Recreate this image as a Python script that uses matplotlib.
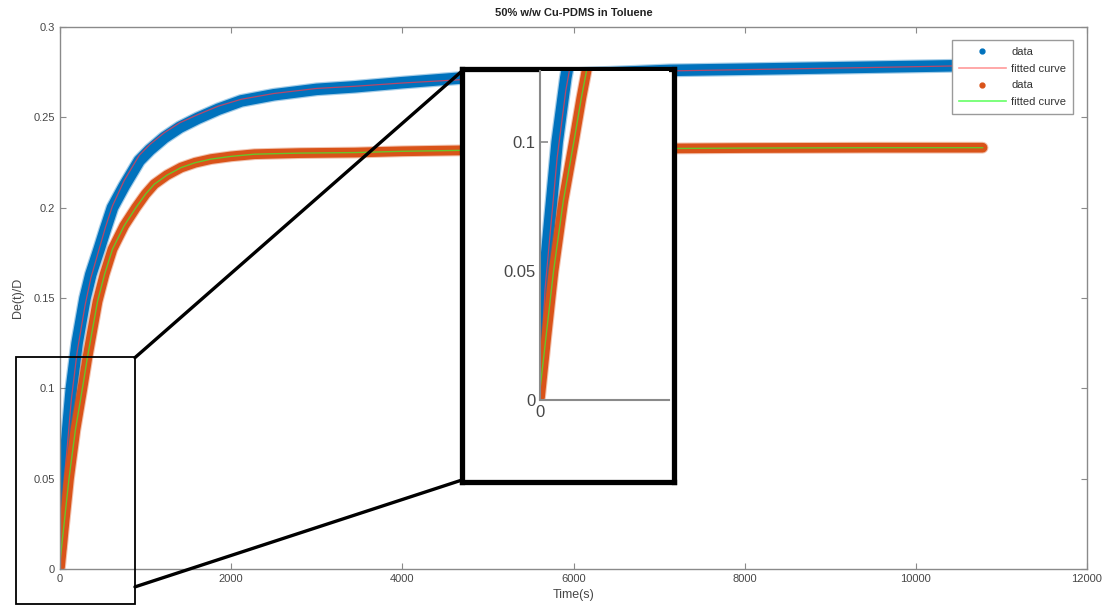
import matplotlib

matplotlib.use("Agg")
import matplotlib.pyplot as plt
from matplotlib.lines import Line2D
from matplotlib.patches import Rectangle, ConnectionPatch

plt.rcParams["font.family"] = ["Liberation Sans", "DejaVu Sans"]

# values
t_blue = [0, 39, 133, 200, 293, 360, 457, 530, 613, 750, 926, 1050, 1219,
          1400, 1610, 1850, 2118, 2500, 3000, 3447, 4000, 4670, 5500, 6500,
          7130, 8500, 9500, 10400, 10800]
blue_data = [0.012, 0.05, 0.1, 0.125, 0.15, 0.163, 0.177, 0.188, 0.2, 0.212,
             0.226, 0.232, 0.2388, 0.2445, 0.2495, 0.2545, 0.2591, 0.2625,
             0.2655, 0.2669, 0.2692, 0.2717, 0.273, 0.2748, 0.276, 0.277,
             0.2778, 0.2785, 0.279]
blue_fit = [0.004, 0.043, 0.094, 0.12, 0.146, 0.161, 0.177, 0.189, 0.201,
            0.215, 0.229, 0.235, 0.2415, 0.247, 0.2515, 0.2562, 0.2600,
            0.2632, 0.2660, 0.2672, 0.2690, 0.2708, 0.2725, 0.2745, 0.2757,
            0.2768, 0.2776, 0.2784, 0.2788]

t_orange = [0, 50, 105, 180, 262, 320, 438, 520, 613, 750, 887, 1000, 1102,
            1250, 1415, 1580, 1766, 2000, 2274, 2800, 3447, 4000, 4670, 5500,
            6500, 8000, 9500, 10780]
orange_data = [0.001, 0.025, 0.05, 0.077, 0.1, 0.117, 0.148, 0.163, 0.177,
               0.19, 0.2, 0.2075, 0.213, 0.218, 0.2222, 0.2249, 0.2269,
               0.2284, 0.2296, 0.2302, 0.2305, 0.2312, 0.2317, 0.2322,
               0.2326, 0.233, 0.2332, 0.2332]
orange_fit = [0.004, 0.026, 0.05, 0.077, 0.1, 0.117, 0.148, 0.163, 0.177,
              0.19, 0.2, 0.2075, 0.213, 0.218, 0.2222, 0.2249, 0.2269,
              0.2284, 0.2296, 0.2302, 0.2305, 0.2312, 0.2317, 0.2322,
              0.2326, 0.233, 0.2332, 0.2332]

x_ticks = [0, 2000, 4000, 6000, 8000, 10000, 12000]
y_ticks = [0, 0.05, 0.1, 0.15, 0.2, 0.25, 0.3]
y_tick_labels = ["0", "0.05", "0.1", "0.15", "0.2", "0.25", "0.3"]

BLUE = "#0072BD"
ORANGE = "#D95319"
RED = "#d8405a"
GREEN = "#5cd22a"
SPINE = "#8a8a8a"
TXT = "#474747"

W, H = 1107, 615


def px_axes(fig, left, top, right, bottom):
    return fig.add_axes([left / W, 1 - bottom / H, (right - left) / W,
                         (bottom - top) / H])


def draw_curves(ax):
    band = dict(solid_capstyle="round", solid_joinstyle="round")
    # soft fringe under each band to mimic the scattered points
    ax.plot(t_blue, blue_data, color=BLUE, lw=10, alpha=0.35, **band)
    ax.plot(t_blue, blue_data, color=BLUE, lw=8.3, **band)
    ax.plot(t_blue, blue_fit, color=RED, lw=0.9, alpha=0.85,
            solid_joinstyle="round")
    ax.plot(t_orange, orange_data, color=ORANGE, lw=8.5, alpha=0.35, **band)
    ax.plot(t_orange, orange_data, color=ORANGE, lw=7, **band)
    ax.plot(t_orange, orange_fit, color=GREEN, lw=1.0, alpha=0.9,
            solid_joinstyle="round")


fig = plt.figure(figsize=(W / 100, H / 100), dpi=100)
ax = px_axes(fig, 60, 27, 1087, 569)
draw_curves(ax)
ax.set_xlim(0, 12000)
ax.set_ylim(0, 0.3)
ax.set_xticks(x_ticks)
ax.set_xticklabels([str(v) for v in x_ticks])
ax.set_yticks(y_ticks)
ax.set_yticklabels(y_tick_labels)
ax.tick_params(direction="in", length=4, width=0.8, colors=SPINE,
               labelcolor=TXT, labelsize=8, top=True, right=True)
for s in ax.spines.values():
    s.set_color(SPINE)
    s.set_linewidth(1.0)
ax.set_title("50% w/w Cu-PDMS in Toluene", fontsize=8, fontweight="bold",
             color="#222222", pad=8)
ax.set_xlabel("Time(s)", fontsize=9, color=TXT, labelpad=4)
ax.set_ylabel("De(t)/D", fontsize=9, color=TXT, labelpad=7)

handles = [
    Line2D([], [], color=BLUE, marker="o", ls="none", markersize=3.5),
    Line2D([], [], color="#ff9a9a", lw=1.2),
    Line2D([], [], color=ORANGE, marker="o", ls="none", markersize=3.5),
    Line2D([], [], color="#66ff66", lw=1.2),
]
leg = ax.legend(handles, ["data", "fitted curve", "data", "fitted curve"],
                loc="upper right", bbox_to_anchor=(1 - 14 / 1027, 1 - 13 / 542),
                borderaxespad=0, fontsize=8, fancybox=False, framealpha=1,
                handlelength=4.3, handletextpad=0.45, labelspacing=0.62,
                borderpad=0.6)
leg.get_frame().set_edgecolor("#9a9a9a")
leg.get_frame().set_linewidth(1.0)
for txt in leg.get_texts():
    txt.set_color("#333333")

# small zoom rectangle around the start of the curves
ax.add_patch(Rectangle((-514, -0.0193), 1390, 0.1364, fill=False,
                       ec="black", lw=1.3, clip_on=False, zorder=5))

# big magnified box
box = px_axes(fig, 462, 69, 674, 482)
box.set_xticks([])
box.set_yticks([])
box.set_facecolor("white")
for s in box.spines.values():
    s.set_color("black")
    s.set_linewidth(3.8)

ins = px_axes(fig, 540, 71, 669, 400)
draw_curves(ins)
ins.set_xlim(0, 1000)
ins.set_ylim(0, 0.1276)
ins.set_xticks([0])
ins.set_xticklabels(["0"])
ins.set_yticks([0, 0.05, 0.1])
ins.set_yticklabels(["0", "0.05", "0.1"])
ins.tick_params(direction="in", length=6, width=1.2, colors=SPINE,
                labelcolor=TXT, labelsize=12)
ins.spines["top"].set_visible(False)
ins.spines["right"].set_visible(False)
for s in ("left", "bottom"):
    ins.spines[s].set_color(SPINE)
    ins.spines[s].set_linewidth(1.5)

for xa, xb in [((876, 0.117), (462 / W, 1 - 71 / H)),
               ((876, -0.0099), (462 / W, 1 - 480 / H))]:
    con = ConnectionPatch(xyA=xa, coordsA=ax.transData, xyB=xb,
                          coordsB="figure fraction", color="black", lw=2.4)
    fig.add_artist(con)

fig.savefig("out.png", dpi=100)
